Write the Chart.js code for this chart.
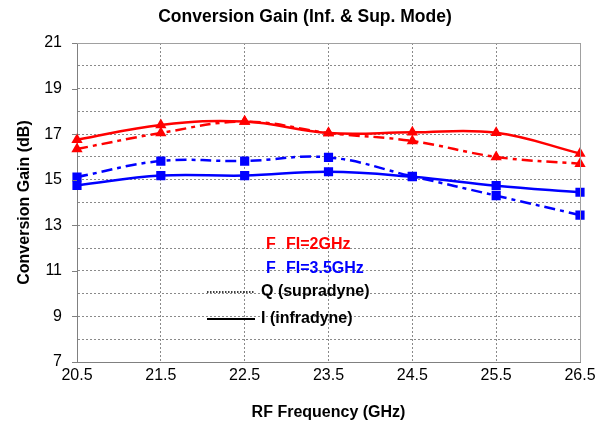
<!DOCTYPE html>
<html>
<head>
<meta charset="utf-8">
<script src="https://cdn.jsdelivr.net/npm/chart.js@4.4.1/dist/chart.umd.min.js"></script>
<style>
  body { margin: 0; background: #fff; }
  #wrap { width: 610px; height: 430px; }
</style>
</head>
<body>
<div id="wrap"><canvas id="mycanvas" width="610" height="430"></canvas></div>
<script>
// RF frequency (GHz)
var freq = ['20.5', '21.5', '22.5', '23.5', '24.5', '25.5', '26.5'];
// conversion gain (dB), FI = 2 GHz
var gainI2 = [16.75, 17.4, 17.55, 17.05, 17.08, 17.06, 16.15];
var gainQ2 = [16.35, 17.05, 17.55, 17.05, 16.7, 16.0, 15.7];
// conversion gain (dB), FI = 3.5 GHz
var gainI35 = [14.75, 15.18, 15.18, 15.35, 15.13, 14.74, 14.45];
var gainQ35 = [15.12, 15.82, 15.82, 15.98, 15.15, 14.3, 13.45];
// y axis labels are shown on odd values only
var yLabels = [7, 9, 11, 13, 15, 17, 19, 21];

var dashDot = [11, 5, 4, 5];

function serie(label, data, color, shape, dash) {
	return {
		label: label,
		data: data,
		borderColor: color,
		backgroundColor: color,
		borderWidth: 2.5,
		borderDash: dash,
		pointStyle: shape,
		pointRadius: shape == 'triangle' ? 6.5 : 6.5,
		pointBorderWidth: 0,
		tension: 0.4
	};
}

// top / right frame and the short y tick marks
var framePlugin = {
	id: 'frame',
	afterDraw: function(chart) {
		var ctx = chart.ctx, a = chart.chartArea, y = chart.scales.y;
		ctx.save();
		ctx.strokeStyle = '#a0a0a0';
		ctx.lineWidth = 1;
		ctx.beginPath();
		ctx.moveTo(a.left, a.top + 0.5);
		ctx.lineTo(a.right + 0.5, a.top + 0.5);
		ctx.lineTo(a.right + 0.5, a.bottom);
		ctx.stroke();
		ctx.strokeStyle = '#808080';
		ctx.beginPath();
		for (var i = 0; i < yLabels.length; i++) {
			var py = Math.round(y.getPixelForValue(yLabels[i])) + 0.5;
			ctx.moveTo(a.left - 5, py);
			ctx.lineTo(a.left, py);
		}
		ctx.stroke();
		ctx.restore();
	}
};

// legend written inside the plot, as in the original figure
var notePlugin = {
	id: 'notes',
	afterDraw: function(chart) {
		var ctx = chart.ctx;
		ctx.save();
		ctx.font = 'bold 16px "Liberation Sans", Arial, sans-serif';
		ctx.textBaseline = 'middle';
		ctx.textAlign = 'left';
		ctx.fillStyle = '#ff0000';
		ctx.fillText('F', 266, 245);
		ctx.fillText('FI=2GHz', 286, 245);
		ctx.fillStyle = '#0000ff';
		ctx.fillText('F', 266, 269);
		ctx.fillText('FI=3.5GHz', 286, 269);
		ctx.fillStyle = '#000';
		ctx.fillText('Q (supradyne)', 261, 292);
		ctx.fillText('I (infradyne)', 261, 319);
		ctx.strokeStyle = '#000';
		ctx.lineWidth = 1.5;
		ctx.setLineDash([1.5, 1.5]);
		ctx.beginPath();
		ctx.moveTo(207, 292);
		ctx.lineTo(255, 292);
		ctx.stroke();
		ctx.setLineDash([]);
		ctx.lineWidth = 2;
		ctx.beginPath();
		ctx.moveTo(207, 319);
		ctx.lineTo(255, 319);
		ctx.stroke();
		ctx.restore();
	}
};

Chart.defaults.font.family = '"Liberation Sans", Arial, sans-serif';
Chart.defaults.color = '#000';

var ctx = document.getElementById('mycanvas');
new Chart(ctx, {
	type: 'line',
	data: {
		labels: freq,
		datasets: [
			serie('I FI=2GHz', gainI2, '#ff0000', 'triangle', []),
			serie('Q FI=2GHz', gainQ2, '#ff0000', 'triangle', dashDot),
			serie('I FI=3.5GHz', gainI35, '#0000ff', 'rect', []),
			serie('Q FI=3.5GHz', gainQ35, '#0000ff', 'rect', dashDot)
		]
	},
	options: {
		responsive: false,
		animation: false,
		layout: { padding: 0 },
		plugins: {
			legend: { display: false },
			tooltip: { enabled: false },
			title: {
				display: true,
				text: 'Conversion Gain (Inf. & Sup. Mode)',
				font: { size: 17.5, weight: 'bold' },
				color: '#000',
				padding: { top: 7, bottom: 15 }
			}
		},
		scales: {
			x: {
				type: 'category',
				offset: false,
				afterFit: function(s) { s.height = 68; },
				grid: { color: '#8a8a8a', drawTicks: false },
				border: { color: '#808080', width: 1, dash: [2, 2] },
				ticks: { font: { size: 16 }, padding: 4, maxRotation: 0 },
				title: {
					display: true,
					text: 'RF Frequency (GHz)',
					font: { size: 16, weight: 'bold' },
					padding: { top: 0, bottom: 8 }
				}
			},
			y: {
				min: 7,
				max: 21,
				afterFit: function(s) { s.width = 77; },
				grid: { color: '#8a8a8a', drawTicks: false },
				border: { color: '#808080', width: 1, dash: [2, 2] },
				ticks: {
					stepSize: 1,
					font: { size: 16 },
					padding: 15,
					callback: function(v) { return yLabels.indexOf(v) >= 0 ? v : ''; }
				},
				title: {
					display: true,
					text: 'Conversion Gain (dB)',
					font: { size: 16, weight: 'bold' },
					padding: { top: 15, bottom: 0 }
				}
			},
			// empty right margin so the title centres on the whole page
			yRight: {
				position: 'right',
				min: 7,
				max: 21,
				afterFit: function(s) { s.width = 30; },
				grid: { drawOnChartArea: false, drawTicks: false },
				border: { display: false },
				ticks: { display: false }
			}
		}
	},
	plugins: [framePlugin, notePlugin]
});
</script>
</body>
</html>
